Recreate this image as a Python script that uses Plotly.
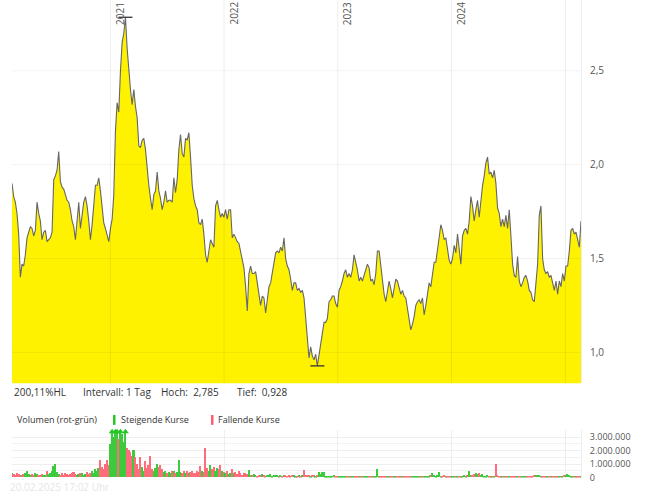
import numpy as np
import pandas as pd
import plotly.graph_objects as go

# ---------------- data ----------------
start_date = "2020-02-20"
end_date = "2025-02-20"

price = [
    # 2020-02 .. 2020-12 / early 2021
    1.90, 1.83, 1.80, 1.74, 1.63, 1.40, 1.47, 1.46, 1.52, 1.61, 1.64, 1.67, 1.66, 1.62, 1.65, 1.80,
    1.74, 1.70, 1.60, 1.64, 1.65, 1.59, 1.60, 1.61, 1.64, 1.92, 1.94, 1.97, 2.07, 1.91, 1.88, 1.87,
    1.84, 1.81, 1.80, 1.76, 1.70, 1.67, 1.60, 1.72, 1.80, 1.66, 1.75, 1.80, 1.83, 1.78, 1.70, 1.60,
    1.68, 1.78, 1.89, 1.89, 1.93, 1.86, 1.76, 1.69, 1.66, 1.62, 1.59, 1.66, 1.71, 1.84, 2.18, 2.33,
    2.28, 2.50, 2.65, 2.70, 2.785, 2.62, 2.50, 2.40, 2.32, 2.40, 2.31, 2.25, 2.10, 2.09, 2.13, 2.14,
    2.08, 1.97, 1.89, 1.82, 1.76, 1.84, 1.86, 1.96,
    # 2021 .. late 2022
    1.86, 1.82, 1.76, 1.80, 1.86, 1.80, 1.81, 1.81, 1.80, 1.93, 1.85, 1.92, 2.08, 2.16, 2.06, 2.04,
    2.14, 2.13, 2.17, 2.04, 1.89, 1.82, 1.78, 1.76, 1.69, 1.68, 1.71, 1.63, 1.52, 1.48, 1.53, 1.60,
    1.58, 1.56, 1.78, 1.81, 1.76, 1.72, 1.74, 1.72, 1.76, 1.71, 1.76, 1.76, 1.61, 1.63, 1.61, 1.59,
    1.58, 1.54, 1.50, 1.45, 1.35, 1.22, 1.42, 1.46, 1.42, 1.42, 1.43, 1.36, 1.32, 1.25, 1.30, 1.29,
    1.21, 1.27, 1.35, 1.37, 1.43, 1.48, 1.53, 1.54, 1.53, 1.56, 1.54, 1.61, 1.50, 1.46, 1.44, 1.39,
    1.33, 1.37,
    # late 2022 .. end 2023
    1.37, 1.33, 1.34, 1.32, 1.33, 1.29, 1.18, 1.10, 0.97, 1.03, 0.98, 0.96, 0.99, 0.928, 0.99, 1.05,
    1.10, 1.16, 1.16, 1.18, 1.27, 1.28, 1.30, 1.30, 1.26, 1.24, 1.33, 1.35, 1.38, 1.42, 1.44, 1.40,
    1.42, 1.40, 1.44, 1.52, 1.48, 1.44, 1.38, 1.40, 1.38, 1.41, 1.44, 1.47, 1.45, 1.38, 1.39, 1.36,
    1.42, 1.54, 1.54, 1.46, 1.38, 1.31, 1.27, 1.32, 1.38, 1.34, 1.29, 1.34, 1.39, 1.38, 1.34, 1.31,
    1.33, 1.30, 1.29, 1.24, 1.17, 1.12, 1.15, 1.19, 1.25, 1.27, 1.28, 1.26, 1.29, 1.20, 1.25, 1.32,
    1.37, 1.35, 1.43, 1.48,
    # 2024 .. 2025-02
    1.48, 1.55, 1.62, 1.68, 1.65, 1.60, 1.61, 1.56, 1.49, 1.47, 1.50, 1.57, 1.53, 1.63, 1.55, 1.47,
    1.62, 1.65, 1.66, 1.63, 1.70, 1.83, 1.78, 1.70, 1.76, 1.81, 1.72, 1.81, 1.89, 1.94, 2.01, 2.04,
    1.95, 1.96, 1.93, 1.97, 1.90, 1.77, 1.74, 1.67, 1.71, 1.67, 1.73, 1.66, 1.76, 1.62, 1.47, 1.41,
    1.40, 1.51, 1.38, 1.35, 1.37, 1.40, 1.41, 1.38, 1.33, 1.32, 1.28, 1.27, 1.36, 1.47, 1.73, 1.78,
    1.50, 1.44, 1.42, 1.43, 1.40, 1.41, 1.37, 1.33, 1.38, 1.31, 1.38, 1.35, 1.42, 1.38, 1.46, 1.46,
    1.54, 1.65, 1.66, 1.63, 1.64, 1.60, 1.56, 1.70,
]

volume_k = (
    [300, 220, 180, 350, 250, 200, 150, 280, 320, 500, 260, 180, 220, 150, 300, 240, 200, 180]
    + [220, 160, 200, 500, 250]
    + [300, 450, 850, 1000, 400]
    + [250, 200, 300, 180, 350, 220, 150, 260, 300, 400, 250, 180, 220, 350, 300, 200, 280, 400,
       250, 300, 500, 350, 600, 450, 700]
    + [1300, 800, 600, 1000, 1300, 900]
    + [2500, 3800, 3000, 4000, 3600, 2800, 3900, 3200, 2600, 3700, 2200, 2000]
    + [1900, 1600, 2000, 1500]
    + [1000, 600, 1500, 800, 500, 1200, 700, 900]
    + [1600]
    + [600, 500, 700, 1000, 800, 950, 600, 400, 500]
    + [350, 400, 300, 450, 500, 350, 400]
    + [1300]
    + [400, 300, 500, 350, 450, 300, 400, 500, 350, 300, 450, 400]
    + [850]
    + [500, 400]
    + [2200]
    + [700, 500, 900, 600, 800, 500, 700, 600, 900, 500]
    + [400, 300, 500, 250, 350, 600, 300, 400, 250, 450, 300, 200, 350, 300, 250]
    + [550]
    + [200, 150, 250, 180, 120, 200, 150, 220, 180, 140, 200, 160, 250, 120, 180, 150, 200, 140,
       170, 120, 150, 200, 130, 160, 110, 150, 180, 120, 140]
    + [150, 120, 180]
    + [550]
    + [200, 150, 180, 120, 150, 200, 130, 160]
    + [400, 250, 380, 420]
    + [120, 100, 130, 90, 110, 150, 100, 80, 120, 100, 90, 130, 110, 100, 80, 120, 90, 110, 100,
       130, 90, 100, 80, 120, 100, 90, 110, 140, 100, 90, 120]
    + [650]
    + [120, 100, 80, 110, 90, 70, 100, 80, 90, 120, 70, 100, 80, 60, 90, 110, 80, 70, 100, 90, 60,
       80, 110, 70, 90, 80, 100, 70, 90, 60, 120, 150]
    + [300]
    + [150, 120, 200]
    + [420]
    + [120, 100, 150, 90, 110, 130, 80, 100, 120, 90, 140, 100, 110, 80, 150, 120, 200]
    + [500]
    + [200, 150, 250]
    + [300, 250, 320, 200, 280]
    + [120, 100, 150, 90, 130, 110, 80]
    + [1000]
    + [150, 100, 80, 120, 90, 110, 70, 100, 90, 130, 80, 100, 120, 90, 70, 110, 100, 80, 140, 90,
       100, 120, 150, 180, 200, 150, 120, 100, 130, 90, 110, 80, 100, 120, 90, 80, 110, 100, 70,
       90, 150, 200, 250, 180, 120, 100, 140, 110, 90, 120, 130]
)

year_ticks = ["2021-01-01", "2022-01-01", "2023-01-01", "2024-01-01", "2025-01-01"]
year_labels = ["2021", "2022", "2023", "2024", ""]
price_ticks = [1.0, 1.5, 2.0, 2.5]
volume_ticks = [0, 1000000, 2000000, 3000000]

info_texts = ["200,11%HL", "Intervall: 1 Tag", "Hoch:  2,785", "Tief:  0,928"]
timestamp = "20.02.2025 17:02 Uhr"

# ---------------- build ----------------
W, H = 669, 500
px = lambda v: v / W
py = lambda v: 1 - v / H

dates = pd.date_range(start_date, end_date, periods=len(price))
vol = np.array(volume_k, dtype=float) * 1000
vol_dates = pd.date_range(start_date, end_date, periods=len(vol))
p_on_vol = np.interp(np.arange(len(vol)) * (len(price) - 1) / max(len(vol) - 1, 1),
                     np.arange(len(price)), price)
up = np.concatenate([[True], np.diff(p_on_vol) >= 0])
GREEN = "#27c627"
RED = "#ff5e6c"
vol_colors = [GREEN if u else RED for u in up]

VOL_MAX = 3.5e6
FONT = "Open Sans"

fig = go.Figure()

fig.add_trace(go.Scatter(
    x=dates, y=price, mode="lines", fill="tozeroy",
    line=dict(color="#666666", width=1.1), fillcolor="#FFF200",
    xaxis="x", yaxis="y", hoverinfo="skip", showlegend=False,
))

imax = int(np.argmax(price))
imin = int(np.argmin(price))
fig.add_trace(go.Scatter(
    x=[dates[imax], dates[imin]], y=[price[imax], price[imin]], mode="markers",
    marker=dict(symbol="line-ew", size=10, line=dict(color="#333333", width=1.3)),
    xaxis="x", yaxis="y", showlegend=False, hoverinfo="skip", cliponaxis=False,
))

fig.add_trace(go.Bar(
    x=vol_dates, y=np.minimum(vol, VOL_MAX), marker=dict(color=vol_colors, line=dict(width=0)),
    opacity=0.9, xaxis="x2", yaxis="y2", showlegend=False, hoverinfo="skip",
))

clip = vol > VOL_MAX
fig.add_trace(go.Scatter(
    x=vol_dates[clip], y=[VOL_MAX * 0.97] * int(clip.sum()), mode="markers",
    marker=dict(symbol="triangle-up", size=6, color=[c for c, k in zip(vol_colors, clip) if k]),
    xaxis="x2", yaxis="y2", showlegend=False, hoverinfo="skip", cliponaxis=False,
))

x_dom = [px(12), px(581)]
fig.update_layout(
    width=W, height=H, autosize=False, margin=dict(l=0, r=0, t=0, b=0),
    paper_bgcolor="white", plot_bgcolor="white",
    separators=",.",
    font=dict(family=FONT, size=10, color="#444444"),
    bargap=0,
    xaxis=dict(domain=x_dom, type="date", range=[start_date, end_date],
               tickvals=year_ticks, showticklabels=False, showgrid=False,
               zeroline=False, showline=False, fixedrange=True),
    yaxis=dict(domain=[py(388), 1], range=[0.835, 2.877], side="right",
               tickvals=price_ticks, tickformat=".1f", showgrid=False,
               zeroline=False, showline=True, linecolor="#eeeeee", linewidth=1,
               ticks="", ticklabelstandoff=6,
               tickfont=dict(size=10, color="#555555")),
    xaxis2=dict(domain=x_dom, type="date", range=[start_date, end_date], anchor="y2",
                tickvals=year_ticks, showticklabels=False, showgrid=True,
                gridcolor="#eeeeee", zeroline=False, showline=False),
    yaxis2=dict(domain=[py(483.5), py(435.5)], range=[0, VOL_MAX], side="right", anchor="x2",
                tickvals=volume_ticks, tickformat=",.0f", showgrid=True, gridcolor="#eeeeee",
                minor=dict(dtick=500000, showgrid=True, gridcolor="#f2f2f2"),
                zeroline=False, showline=True, linecolor="#eeeeee", ticks="",
                ticklabelstandoff=6, tickfont=dict(size=9, color="#555555")),
)

shapes = []
for t in year_ticks:
    shapes.append(dict(type="line", xref="x", yref="y domain", x0=t, x1=t, y0=0, y1=1,
                       line=dict(color="rgba(0,0,0,0.07)", width=1), layer="above"))
for v in price_ticks:
    shapes.append(dict(type="line", xref="x domain", yref="y", x0=0, x1=1, y0=v, y1=v,
                       line=dict(color="rgba(0,0,0,0.05)", width=1), layer="above"))
# legend colour swatches for volume
shapes.append(dict(type="rect", xref="paper", yref="paper", x0=px(113), x1=px(115.5),
                   y0=py(430), y1=py(420), fillcolor=GREEN, line=dict(width=0)))
shapes.append(dict(type="rect", xref="paper", yref="paper", x0=px(211), x1=px(213.5),
                   y0=py(430), y1=py(420), fillcolor=RED, line=dict(width=0)))
fig.update_layout(shapes=shapes)

ann = []
for t, lab in zip(year_ticks, year_labels):
    if lab:
        ann.append(dict(x=t, xref="x", y=1, yref="paper", text=lab, showarrow=False,
                        textangle=-90, xanchor="left", yanchor="top", xshift=0,
                        font=dict(size=10, color="#555555")))
for xpos, txt in zip([12, 81, 159, 235], info_texts):
    ann.append(dict(x=px(xpos), xref="paper", y=py(397), yref="paper", text=txt,
                    showarrow=False, xanchor="left", yanchor="middle",
                    font=dict(size=10, color="#333333")))
legend_font = dict(size=9, color="#333333")
ann.append(dict(x=px(15), xref="paper", y=py(425), yref="paper", text="Volumen (rot-grün)",
                showarrow=False, xanchor="left", yanchor="middle", font=legend_font))
ann.append(dict(x=px(119), xref="paper", y=py(425), yref="paper", text="Steigende Kurse",
                showarrow=False, xanchor="left", yanchor="middle", font=legend_font))
ann.append(dict(x=px(216), xref="paper", y=py(425), yref="paper", text="Fallende Kurse",
                showarrow=False, xanchor="left", yanchor="middle", font=legend_font))
ann.append(dict(x=px(8), xref="paper", y=py(493), yref="paper", text=timestamp,
                showarrow=False, xanchor="left", yanchor="middle",
                font=dict(size=10, color="#e6e6e6")))
fig.update_layout(annotations=ann)

post = (
    "document.documentElement.style.margin='0px';"
    "document.body.style.margin='0px';"
)
fig.write_html("out.html", config={"displayModeBar": False}, post_script=post)
